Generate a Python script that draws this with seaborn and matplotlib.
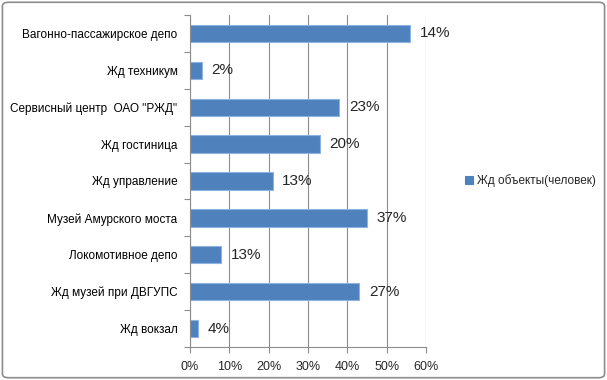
import numpy as np
import matplotlib
matplotlib.use('Agg')
import matplotlib.pyplot as plt
from matplotlib.patches import FancyBboxPatch
from matplotlib.ticker import PercentFormatter, FixedLocator
import seaborn as sns

# data (bar length vs. printed label do not agree in the source)
objects = ['Вагонно-пассажирское депо', 'Жд техникум', 'Сервисный центр  ОАО "РЖД"',
           'Жд гостиница', 'Жд управление', 'Музей Амурского моста',
           'Локомотивное депо', 'Жд музей при ДВГУПС', 'Жд вокзал']
shares = [0.56, 0.03, 0.38, 0.33, 0.21, 0.45, 0.08, 0.43, 0.02]
value_labels = ['14%', '2%', '23%', '20%', '13%', '37%', '13%', '27%', '4%']
series_name = 'Жд объекты(человек)'

sns.set_style('white')
plt.rcParams['font.family'] = ['Liberation Sans', 'DejaVu Sans']

fig = plt.figure(figsize=(6.07, 3.80), dpi=100)
ax = fig.add_axes([190 / 607, 1 - 347 / 380, 236 / 607, 332 / 380])

sns.barplot(x=shares, y=objects, color='#4F81BD', saturation=1, width=0.47, ax=ax,
            edgecolor='#8DB3E2', linewidth=0.8, label=series_name)

ax.set_xlim(0, 0.6)
ax.set_ylim(len(objects) - 0.5, -0.5)
ax.xaxis.set_major_formatter(PercentFormatter(1.0, decimals=0))
ax.set_xticks(np.arange(0, 0.61, 0.1))
ax.grid(axis='x', color='#8C8C8C', linewidth=0.8)
ax.set_axisbelow(True)

# category boundary ticks on the y axis
ax.yaxis.set_minor_locator(FixedLocator(np.arange(-0.5, len(objects), 1)))
ax.tick_params(axis='y', which='major', length=0, pad=9, labelsize=8.5, colors='#000000')
ax.tick_params(axis='y', which='minor', length=4, color='#8C8C8C', width=0.8, left=True)
ax.tick_params(axis='x', length=4, color='#8C8C8C', width=0.8, labelsize=9, pad=6, bottom=True)

for side in ['top', 'right']:
    ax.spines[side].set_visible(False)
for side in ['left', 'bottom']:
    ax.spines[side].set_color('#8C8C8C')
    ax.spines[side].set_linewidth(0.8)

ax.bar_label(ax.containers[0], labels=value_labels, padding=7, fontsize=11)

leg = ax.legend(loc='center left', bbox_to_anchor=(1.12, 0.5), frameon=False,
                fontsize=8.5, handlelength=0.7, handleheight=0.7, handletextpad=0.3)
for h in leg.legend_handles:
    h.set_edgecolor('#4F81BD')

border = FancyBboxPatch((0.004, 0.006), 0.992, 0.988, boxstyle='round,pad=0,rounding_size=0.01',
                        transform=fig.transFigure, facecolor='none', edgecolor='#8C8C8C',
                        linewidth=1.2)
fig.patches.append(border)

fig.savefig('out.png', dpi=100)
